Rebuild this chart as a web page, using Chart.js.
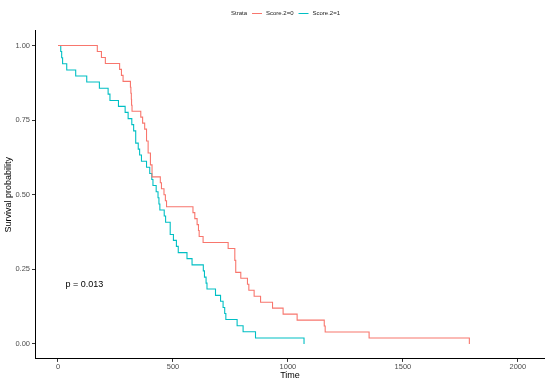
<!DOCTYPE html>
<html><head><meta charset="utf-8">
<script src="https://cdn.jsdelivr.net/npm/chart.js@4/dist/chart.umd.min.js"></script>
<style>html,body{margin:0;padding:0;background:#fff;}canvas{display:block;}</style>
</head><body>
<canvas id="c" width="545" height="385"></canvas>
<script>
const strataTitle = 'Strata';
const strataNames = ['Score.2=0', 'Score.2=1'];
const strataColors = ['#F8766D', '#00BFC4'];

const redTime = [0,171,189,206,268,276,283,315,317,319,320,322,360,368,377,385,392,402,409,445,450,461,467,472,587,595,605,611,614,631,740,769,773,795,824,830,853,881,933,979,1040,1158,1162,1353,1789];
const redSurv = [1,0.98,0.96,0.94,0.92,0.90,0.88,0.86,0.84,0.82,0.80,0.78,0.76,0.74,0.72,0.68,0.64,0.60,0.56,0.54,0.52,0.50,0.48,0.46,0.44,0.42,0.40,0.38,0.36,0.34,0.32,0.28,0.24,0.22,0.20,0.18,0.16,0.14,0.12,0.10,0.08,0.06,0.04,0.02,0.00];

const tealTime = [0,12,16,20,38,77,125,180,218,226,263,292,305,321,329,338,349,355,363,385,399,408,413,427,435,439,443,462,468,488,502,515,523,561,583,632,637,644,648,685,707,718,725,730,779,805,859,1070];
const tealSurv = [1,0.980,0.959,0.939,0.918,0.898,0.878,0.857,0.837,0.816,0.796,0.776,0.755,0.735,0.714,0.673,0.653,0.633,0.612,0.592,0.571,0.551,0.531,0.510,0.490,0.469,0.449,0.429,0.408,0.367,0.347,0.327,0.306,0.286,0.265,0.245,0.224,0.204,0.184,0.163,0.143,0.122,0.102,0.082,0.061,0.041,0.020,0];

const xTicks = [0, 500, 1000, 1500, 2000];
const yTicks = [0, 0.25, 0.5, 0.75, 1];
const xTitle = 'Time';
const yTitle = 'Survival probability';
const pValueText = 'p = 0.013';
const pValuePos = [30, 0.2];

const FONT = '"Liberation Sans", Arial, sans-serif';

const overlay = {
  id: 'overlay',
  afterDraw(chart) {
    const ctx = chart.ctx;
    const a = chart.chartArea;
    const xs = chart.scales.x, ys = chart.scales.y;
    ctx.save();
    ctx.fillStyle = '#000';
    ctx.textBaseline = 'middle';
    // axis titles
    ctx.font = '9px ' + FONT;
    ctx.textAlign = 'center';
    ctx.fillText(xTitle, (a.left + a.right) / 2, 376);
    ctx.save();
    ctx.translate(9, (a.top + a.bottom) / 2);
    ctx.rotate(-Math.PI / 2);
    ctx.fillText(yTitle, 0, 0);
    ctx.restore();
    // p value
    ctx.font = '9px ' + FONT;
    ctx.textAlign = 'left';
    ctx.fillText(pValueText, xs.getPixelForValue(pValuePos[0]) + 0.5, ys.getPixelForValue(pValuePos[1]) + 0.5);
    // legend
    ctx.font = '6px ' + FONT;
    ctx.fillStyle = '#222';
    const ly = 13;
    let lx = 231;
    ctx.fillText(strataTitle, lx, ly);
    lx += ctx.measureText(strataTitle).width + 5;
    strataNames.forEach((n, i) => {
      ctx.strokeStyle = strataColors[i];
      ctx.lineWidth = 1;
      ctx.beginPath();
      ctx.moveTo(lx, ly + 0.5);
      ctx.lineTo(lx + 10, ly + 0.5);
      ctx.stroke();
      lx += 14;
      ctx.fillText(n, lx, ly);
      lx += ctx.measureText(n).width + 5;
    });
    ctx.restore();
  }
};

const mk = (t, s) => t.map((v, i) => ({ x: v, y: s[i] }));

new Chart(document.getElementById('c'), {
  type: 'scatter',
  data: {
    datasets: [
      { label: strataNames[0], data: mk(redTime, redSurv), showLine: true, stepped: 'before', borderColor: strataColors[0], borderWidth: 1.1, pointRadius: 0, fill: false },
      { label: strataNames[1], data: mk(tealTime, tealSurv), showLine: true, stepped: 'before', borderColor: strataColors[1], borderWidth: 1.1, pointRadius: 0, fill: false }
    ]
  },
  options: {
    responsive: false,
    animation: false,
    devicePixelRatio: 1,
    layout: { padding: { top: 30.6, right: 0, bottom: 0, left: 0 } },
    plugins: { legend: { display: false }, tooltip: { enabled: false } },
    scales: {
      x: {
        type: 'linear', min: -100, max: 2118,
        afterBuildTicks: s => { s.ticks = xTicks.map(v => ({ value: v })); },
        afterFit: s => { s.height = 26.1; },
        grid: { display: true, drawOnChartArea: false, drawTicks: true, tickLength: 3, color: '#333' },
        border: { display: true, color: '#000', width: 1 },
        ticks: { font: { size: 7.5, family: FONT }, color: '#4D4D4D', padding: 1, maxRotation: 0, callback: v => String(v) }
      },
      y: {
        type: 'linear', min: -0.05, max: 1.05,
        afterBuildTicks: s => { s.ticks = yTicks.map(v => ({ value: v })); },
        afterFit: s => { s.width = 35; },
        grid: { display: true, drawOnChartArea: false, drawTicks: true, tickLength: 3, color: '#333' },
        border: { display: true, color: '#000', width: 1 },
        ticks: { font: { size: 7.5, family: FONT }, color: '#4D4D4D', padding: 2, callback: v => Number(v).toFixed(2) }
      }
    }
  },
  plugins: [overlay]
});
</script>
</body></html>
